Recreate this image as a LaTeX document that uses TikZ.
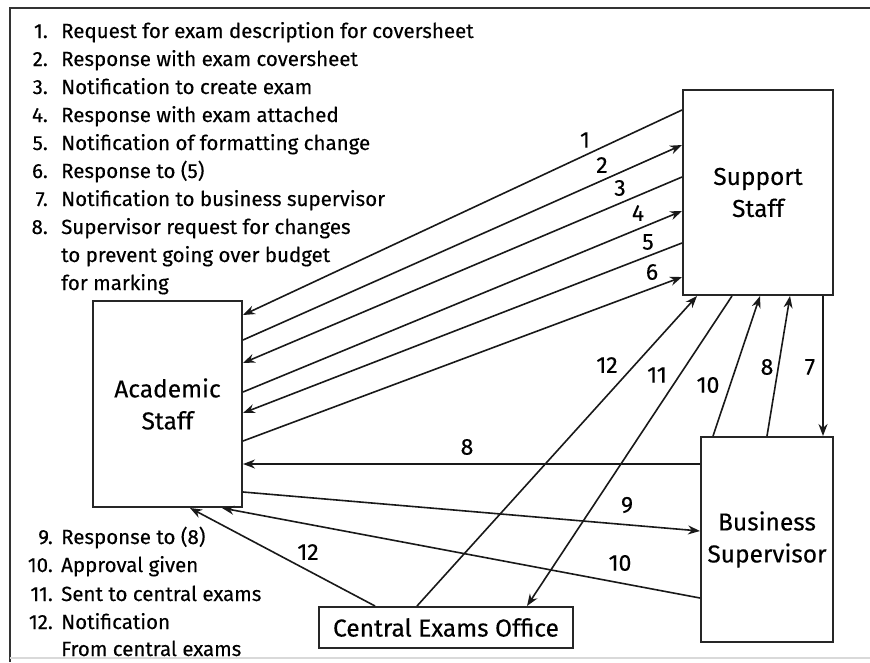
\documentclass[tikz,border=0pt]{standalone}
\usepackage{fontspec}
\setmainfont{Fira Sans}[FakeBold=0.3]
\usetikzlibrary{arrows.meta,calc}
\tikzset{
  box/.style={draw=black!85, line width=2pt, inner sep=0pt, align=center, font=\fontsize{24.5}{32}\selectfont},
  conn/.style={draw=black!90, line width=1.6pt, -{Stealth[length=12pt,width=9pt]}},
  lbl/.style={font=\fontsize{23}{24}\selectfont, inner sep=0pt},
  num/.style={anchor=base east, font=\fontsize{20.5}{22}\selectfont, inner sep=0pt},
  itm/.style={anchor=base west, font=\fontsize{20.5}{22}\selectfont, inner sep=0pt}
}
\begin{document}
\begin{tikzpicture}[x=1pt,y=-1pt]
\useasboundingbox (0,0) rectangle (870,662);
\fill[white] (0,0) rectangle (870,662);
% frame
\draw[black!80, line width=2.5pt] (10,662) -- (10,8) -- (870,8);
\draw[black!15, line width=1.5pt] (10,658) -- (870,658);
% list top
\node[num] (n1) at (48,38) {1.};  \node[itm] (t1) at (61,38) {Request for exam description for coversheet};
\node[num] (n2) at (48,66) {2.};  \node[itm] (t2) at (61,66) {Response with exam coversheet};
\node[num] (n3) at (48,94) {3.};  \node[itm] (t3) at (61,94) {Notification to create exam};
\node[num] (n4) at (48,122) {4.}; \node[itm] (t4) at (61,122) {Response with exam attached};
\node[num] (n5) at (48,150) {5.}; \node[itm] (t5) at (61,150) {Notification of formatting change};
\node[num] (n6) at (48,178) {6.}; \node[itm] (t6) at (61,178) {Response to (5)};
\node[num] (n7) at (48,206) {7.}; \node[itm] (t7) at (61,206) {Notification to business supervisor};
\node[num] (n8) at (48,234) {8.}; \node[itm] (t8) at (61,234) {Supervisor request for changes};
\node[itm] (t8b) at (61,262) {to prevent going over budget};
\node[itm] (t8c) at (61,290) {for marking};
% list bottom
\node[num] (n9) at (53,544) {9.};   \node[itm] (t9) at (61,544) {Response to (8)};
\node[num] (n10) at (53,572) {10.}; \node[itm] (t10) at (61,572) {Approval given};
\node[num] (n11) at (53,601) {11.}; \node[itm] (t11) at (61,601) {Sent to central exams};
\node[num] (n12) at (53,629) {12.}; \node[itm] (t12) at (61,629) {Notification};
\node[itm] (t12b) at (61,656) {From central exams};
% boxes
\node[box, minimum width=149pt, minimum height=206pt] (AS) at (167.5,404) {Academic\\Staff};
\node[box, minimum width=150pt, minimum height=205pt] (SS) at (758,192.5) {Support\\Staff};
\node[box, minimum width=132pt, minimum height=205pt] (BS) at (767,539.5) {Business\\Supervisor};
\node[box, minimum width=254pt, minimum height=41pt] (CEO) at (446,627.5) {Central Exams Office};
% connectors 1-6
\draw[conn] (SS.west |- 0,110) -- (AS.east |- 0,315);
\draw[conn] (AS.east |- 0,340) -- (SS.west |- 0,145);
\draw[conn] (SS.west |- 0,177) -- (AS.east |- 0,363);
\draw[conn] (AS.east |- 0,392) -- (SS.west |- 0,211);
\draw[conn] (SS.west |- 0,243) -- (AS.east |- 0,413);
\draw[conn] (AS.east |- 0,441) -- (SS.west |- 0,277);
% 8, 9, 10 to academic
\draw[conn] (BS.west |- 0,464) -- (AS.east |- 0,464);
\draw[conn] (AS.east |- 0,492) -- (BS.west |- 0,531);
\draw[conn] (BS.west |- 0,598) -- (AS.south -| 222,0);
% central exams
\draw[conn] (CEO.north -| 375,0) -- (AS.south -| 190,0);
\draw[conn] (CEO.north -| 417,0) -- (SS.south -| 697,0);
\draw[conn] (SS.south -| 732,0) -- (CEO.north -| 527,0);
% business supervisor to support
\draw[conn] (BS.north -| 713,0) -- (SS.south -| 760,0);
\draw[conn] (BS.north -| 767,0) -- (SS.south -| 790,0);
\draw[conn] (SS.south -| 823,0) -- (BS.north -| 823,0);
% labels
\node[lbl] (l1) at (585,140) {1};
\node[lbl] (l2) at (602,165) {2};
\node[lbl] (l3) at (620,188) {3};
\node[lbl] (l4) at (638,213) {4};
\node[lbl] (l5) at (648,242) {5};
\node[lbl] (l6) at (652,272) {6};
\node[lbl] (l8) at (467,447) {8};
\node[lbl] (l9) at (627,505) {9};
\node[lbl] (l10) at (620,563) {10};
\node[lbl] (l12a) at (308,552) {12};
\node[lbl] (l12b) at (607,365) {12};
\node[lbl] (l11) at (657,375) {11};
\node[lbl] (l10b) at (708,385) {10};
\node[lbl] (l8b) at (767,367) {8};
\node[lbl] (l7) at (810,367) {7};
\end{tikzpicture}
\end{document}
